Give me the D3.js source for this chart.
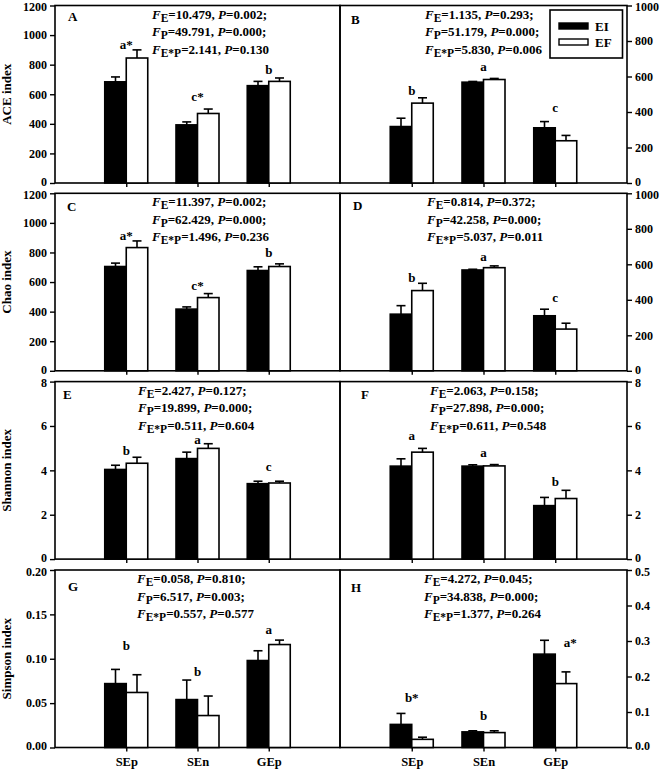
<!DOCTYPE html>
<html><head><meta charset="utf-8">
<script src="https://cdn.jsdelivr.net/npm/d3@7"></script>
<style>
body{margin:0;background:#fff}
text{font-family:"Liberation Serif","Times New Roman",serif;font-weight:bold;fill:#000}
</style>
</head><body>
<svg id="chart" width="660" height="770"></svg>
<script>
// ---------- DATA ----------
const categories = ["SEp", "SEn", "GEp"];
const seriesNames = ["EI", "EF"];

// A: ACE index (left)
const aEI = [684, 393, 658], aEIerr = [33, 20, 29];
const aEF = [845, 470, 687], aEFerr = [55, 30, 23];
const aLetters = ["a*", "c*", "b"], aLetterY = [908, 556, 737];
const aStats = [["E", "10.479", "0.002;"], ["P", "49.791", "0.000;"], ["E*P", "2.141", "0.130"]];

// B: ACE (right)
const bEI = [318, 568, 311], bEIerr = [47, 4, 35];
const bEF = [450, 583, 238], bEFerr = [30, 6, 30];
const bLetters = ["b", "a", "c"], bLetterY = [493, 630, 399];
const bStats = [["E", "1.135", "0.293;"], ["P", "51.179", "0.000;"], ["E*P", "5.830", "0.006"]];

// C: Chao index (left)
const cEI = [705, 417, 678], cEIerr = [23, 15, 25];
const cEF = [833, 495, 705], cEFerr = [45, 27, 18];
const cLetters = ["a*", "c*", "b"], cLetterY = [885, 547, 766];
const cStats = [["E", "11.397", "0.002;"], ["P", "62.429", "0.000;"], ["E*P", "1.496", "0.236"]];

// D: Chao (right)
const dEI = [319, 568, 310], dEIerr = [48, 4, 37];
const dEF = [452, 581, 235], dEFerr = [41, 10, 33];
const dLetters = ["b", "a", "c"], dLetterY = [503, 619, 387];
const dStats = [["E", "0.814", "0.372;"], ["P", "42.258", "0.000;"], ["E*P", "5.037", "0.011"]];

// E: Shannon index (left)
const eEI = [4.04, 4.53, 3.40], eEIerr = [0.19, 0.29, 0.11];
const eEF = [4.32, 4.99, 3.43], eEFerr = [0.27, 0.21, 0.08];
const eLetters = ["b", "a", "c"], eLetterY = [4.71, 5.21, 3.96];
const eStats = [["E", "2.427", "0.127;"], ["P", "19.899", "0.000;"], ["E*P", "0.511", "0.604"]];

// F: Shannon (right)
const fEI = [4.19, 4.19, 2.41], fEIerr = [0.33, 0.06, 0.37];
const fEF = [4.82, 4.20, 2.73], fEFerr = [0.17, 0.06, 0.37];
const fLetters = ["a", "a", "b"], fLetterY = [5.36, 4.61, 3.28];
const fStats = [["E", "2.063", "0.158;"], ["P", "27.898", "0.000;"], ["E*P", "0.611", "0.548"]];

// G: Simpson index (left)
const gEI = [0.072, 0.054, 0.098], gEIerr = [0.016, 0.022, 0.011];
const gEF = [0.062, 0.036, 0.116], gEFerr = [0.020, 0.022, 0.005];
const gLetters = ["b", "b", "a"], gLetterY = [0.110, 0.081, 0.128];
const gStats = [["E", "0.058", "0.810;"], ["P", "6.517", "0.003;"], ["E*P", "0.557", "0.577"]];

// H: Simpson (right)
const hEI = [0.065, 0.044, 0.263], hEIerr = [0.031, 0.003, 0.039];
const hEF = [0.023, 0.042, 0.180], hEFerr = [0.006, 0.005, 0.033];
const hLetters = ["b*", "b", "a*"], hLetterY = [0.129, 0.077, 0.284];
const hStats = [["E", "4.272", "0.045;"], ["P", "34.838", "0.000;"], ["E*P", "1.377", "0.264"]];

// axis domains and ticks
const yTitles = ["ACE index", "Chao index", "Shannon index", "Simpson index"];
const ticksA = [0, 200, 400, 600, 800, 1000, 1200];
const ticksB = [0, 200, 400, 600, 800, 1000];
const ticksE = [0, 2, 4, 6, 8];
const ticksG = [0, 0.05, 0.10, 0.15, 0.20];
const ticksH = [0, 0.1, 0.2, 0.3, 0.4, 0.5];

// ---------- LAYOUT ----------
const svg = d3.select("#chart");
const rowTops = [5.5, 193.3, 381.6, 570];
const rowH = 177.5;
const colX = [[55, 340], [340, 627]];
const barW = 21.5;

const panels = [
  {id:"A", row:0, col:0, ei:aEI, eiE:aEIerr, ef:aEF, efE:aEFerr, letters:aLetters, ly:aLetterY, stats:aStats, dom:[0,1200], ticks:ticksA, fmt:d3.format("d"), sx:97, idx:13, idy:15},
  {id:"B", row:0, col:1, ei:bEI, eiE:bEIerr, ef:bEF, efE:bEFerr, letters:bLetters, ly:bLetterY, stats:bStats, dom:[0,1000], ticks:ticksB, fmt:d3.format("d"), sx:85, idx:11, idy:18},
  {id:"C", row:1, col:0, ei:cEI, eiE:cEIerr, ef:cEF, efE:cEFerr, letters:cLetters, ly:cLetterY, stats:cStats, dom:[0,1200], ticks:ticksA, fmt:d3.format("d"), sx:97, idx:12, idy:18},
  {id:"D", row:1, col:1, ei:dEI, eiE:dEIerr, ef:dEF, efE:dEFerr, letters:dLetters, ly:dLetterY, stats:dStats, dom:[0,1000], ticks:ticksB, fmt:d3.format("d"), sx:87, idx:13, idy:17},
  {id:"E", row:2, col:0, ei:eEI, eiE:eEIerr, ef:eEF, efE:eEFerr, letters:eLetters, ly:eLetterY, stats:eStats, dom:[0,8], ticks:ticksE, fmt:d3.format("d"), sx:83, idx:8, idy:17},
  {id:"F", row:2, col:1, ei:fEI, eiE:fEIerr, ef:fEF, efE:fEFerr, letters:fLetters, ly:fLetterY, stats:fStats, dom:[0,8], ticks:ticksE, fmt:d3.format("d"), sx:90, idx:21, idy:17.5},
  {id:"G", row:3, col:0, ei:gEI, eiE:gEIerr, ef:gEF, efE:gEFerr, letters:gLetters, ly:gLetterY, stats:gStats, dom:[0,0.2], ticks:ticksG, fmt:d3.format(".2f"), sx:82, idx:13, idy:21},
  {id:"H", row:3, col:1, ei:hEI, eiE:hEIerr, ef:hEF, efE:hEFerr, letters:hLetters, ly:hLetterY, stats:hStats, dom:[0,0.5], ticks:ticksH, fmt:d3.format(".1f"), sx:84, idx:11, idy:21.5, ldx:[0,0,15]}
];

panels.forEach(p => {
  const [x0, x1] = colX[p.col];
  const top = rowTops[p.row], bot = top + rowH;
  const x = d3.scaleLinear().domain([0, 4]).range([x0, x1]);
  const inner = d3.scaleBand().domain(seriesNames).range([-barW, barW]);
  const y = d3.scaleLinear().domain(p.dom).range([bot, top]);
  const g = svg.append("g");

  // frame
  g.append("rect").attr("x", x0).attr("y", top).attr("width", x1 - x0).attr("height", rowH)
    .attr("fill", "none").attr("stroke", "#000").attr("stroke-width", 1.6);

  // y axis
  const yAxis = (p.col === 0 ? d3.axisLeft(y) : d3.axisRight(y))
    .tickValues(p.ticks).tickFormat(p.fmt).tickSize(5).tickPadding(3);
  const ya = g.append("g").attr("transform", `translate(${p.col === 0 ? x0 : x1},0)`).call(yAxis);
  ya.select(".domain").remove();
  ya.selectAll("line").attr("stroke", "#000").attr("stroke-width", 1.4);
  const tmax = p.ticks[p.ticks.length - 1];
  ya.selectAll("text").style("font-size", "12px").style("font-family", '"Liberation Serif",serif').style("font-weight", "bold")
    .attr("y", d => d === 0 ? -1.5 : (d === tmax ? 1.5 : 0));

  // x axis ticks
  const xa = g.append("g").attr("transform", `translate(0,${bot})`)
    .call(d3.axisBottom(x).tickValues([1, 2, 3]).tickSize(4).tickFormat((d, i) => p.row === 3 ? categories[i] : "").tickPadding(6));
  xa.select(".domain").remove();
  xa.selectAll("line").attr("stroke", "#000").attr("stroke-width", 1.4);
  xa.selectAll("text").style("font-size", "12.5px").style("font-family", '"Liberation Serif",serif').style("font-weight", "bold");

  // bars
  const rows = categories.map((c, i) => ({i, vals: [
    {s: "EI", v: p.ei[i], e: p.eiE[i]}, {s: "EF", v: p.ef[i], e: p.efE[i]}]}));
  rows.forEach(r => {
    r.vals.forEach(d => {
      const bx = x(r.i + 1) + inner(d.s);
      const cx = bx + inner.bandwidth() / 2;
      // error bar (upper only)
      g.append("line").attr("x1", cx).attr("x2", cx).attr("y1", y(d.v)).attr("y2", y(d.v + d.e))
        .attr("stroke", "#000").attr("stroke-width", 1.6);
      g.append("line").attr("x1", cx - 4.5).attr("x2", cx + 4.5).attr("y1", y(d.v + d.e)).attr("y2", y(d.v + d.e))
        .attr("stroke", "#000").attr("stroke-width", 1.6);
      g.append("rect").attr("x", bx).attr("y", y(d.v)).attr("width", inner.bandwidth())
        .attr("height", y(p.dom[0]) - y(d.v))
        .attr("fill", d.s === "EI" ? "#000" : "#fff").attr("stroke", "#000").attr("stroke-width", 1.6);
    });
    // significance letter
    g.append("text").attr("x", x(r.i + 1) + (p.ldx ? p.ldx[r.i] : 0)).attr("y", y(p.ly[r.i]))
      .attr("text-anchor", "middle").style("font-size", "13px").text(p.letters[r.i]);
  });

  // panel letter
  g.append("text").attr("x", x0 + p.idx).attr("y", top + p.idy).style("font-size", "13px").text(p.id);

  // stats text
  const lineY = [13, 30.5, 48];
  p.stats.forEach((s, k) => {
    const t = g.append("text").attr("x", x0 + p.sx).attr("y", top + lineY[k]).style("font-size", "13px");
    t.append("tspan").style("font-style", "italic").text("F");
    t.append("tspan").attr("dy", 3).style("font-size", "11.5px").text(s[0]);
    t.append("tspan").attr("dy", -3).text("=" + s[1] + ", ");
    t.append("tspan").style("font-style", "italic").text("P");
    t.append("tspan").text("=" + s[2]);
  });

  // y title
  if (p.col === 0) {
    svg.append("text").attr("transform", `translate(11,${(top + bot) / 2}) rotate(-90)`)
      .attr("text-anchor", "middle").style("font-size", "13px").text(yTitles[p.row]);
  }
});

// legend (panel B)
const lg = svg.append("g");
lg.append("rect").attr("x", 550).attr("y", 10).attr("width", 72.5).attr("height", 48)
  .attr("fill", "#fff").attr("stroke", "#000").attr("stroke-width", 1.6);
seriesNames.forEach((s, i) => {
  lg.append("rect").attr("x", 559).attr("y", 23 + i * 16).attr("width", 29).attr("height", 6)
    .attr("fill", i === 0 ? "#000" : "#fff").attr("stroke", "#000").attr("stroke-width", 1.4);
  lg.append("text").attr("x", 595).attr("y", 30.5 + i * 16).style("font-size", "13px").text(s);
});
</script>
</body></html>
